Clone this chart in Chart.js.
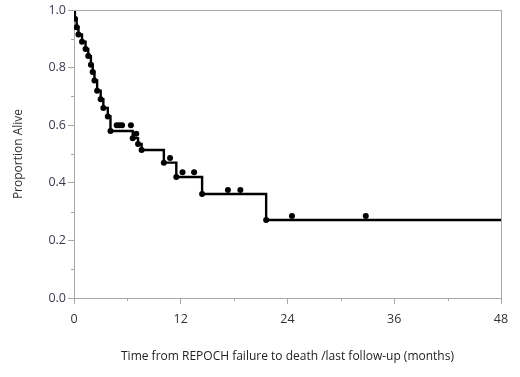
<!DOCTYPE html>
<html>
<head>
<meta charset="utf-8">
<script src="https://cdn.jsdelivr.net/npm/chart.js@4"></script>
<style>
  html, body { margin: 0; padding: 0; background: #fff; }
  #wrap { width: 520px; height: 377px; position: relative; }
</style>
</head>
<body>
<div id="wrap"><canvas id="c"></canvas></div>
<script>
// Kaplan-Meier step points (time in months, proportion alive after the step)
const stepTimes = [0, 0.1, 0.3, 0.5, 0.9, 1.3, 1.6, 1.9, 2.1, 2.3, 2.6, 3.0, 3.3, 3.8, 4.1, 6.6, 7.2, 7.6, 10.1, 11.5, 14.4, 21.6, 48];
const stepSurv  = [1.0, 0.97, 0.94, 0.915, 0.89, 0.865, 0.84, 0.81, 0.785, 0.755, 0.72, 0.69, 0.66, 0.63, 0.58, 0.555, 0.535, 0.514, 0.47, 0.42, 0.361, 0.271, 0.271];
// Event markers (dots at each drop)
const eventTimes = [0.1, 0.3, 0.5, 0.9, 1.3, 1.6, 1.9, 2.1, 2.3, 2.6, 3.0, 3.3, 3.8, 4.1, 6.6, 7.2, 7.6, 10.1, 11.5, 14.4, 21.6];
const eventSurv  = [0.97, 0.94, 0.915, 0.89, 0.865, 0.84, 0.81, 0.785, 0.755, 0.72, 0.69, 0.66, 0.63, 0.58, 0.555, 0.535, 0.514, 0.47, 0.42, 0.361, 0.271];
// Censored observations
const censorTimes = [4.8, 5.1, 5.4, 6.4, 7.0, 10.8, 12.2, 13.5, 17.3, 18.7, 24.5, 32.8];
const censorSurv  = [0.60, 0.60, 0.60, 0.60, 0.57, 0.486, 0.437, 0.437, 0.375, 0.375, 0.285, 0.285];
// Axis ticks
const xTicks = [0, 12, 24, 36, 48];
const xMinorTicks = [6, 18, 30, 42];
const yTicks = [0, 0.2, 0.4, 0.6, 0.8, 1.0];
const yMinorTicks = [0.1, 0.3, 0.5, 0.7, 0.9];

const axisColor = '#a8a8a8';
const fontFam = '"Open Sans", "DejaVu Sans", sans-serif';

const zip = (xs, ys) => xs.map((x, i) => ({x, y: ys[i]}));

const framePlugin = {
  id: 'frame',
  afterDraw(chart) {
    const {ctx, chartArea: a, scales: {x, y}} = chart;
    ctx.save();
    ctx.strokeStyle = axisColor;
    ctx.lineWidth = 1;
    ctx.beginPath();
    ctx.moveTo(a.left, a.top + 0.5); ctx.lineTo(a.right + 0.5, a.top + 0.5);
    ctx.moveTo(a.right + 0.5, a.top); ctx.lineTo(a.right + 0.5, a.bottom);
    xMinorTicks.forEach(v => {
      const px = Math.round(x.getPixelForValue(v)) + 0.5;
      ctx.moveTo(px, a.bottom); ctx.lineTo(px, a.bottom + 3);
    });
    yMinorTicks.forEach(v => {
      const py = Math.round(y.getPixelForValue(v)) + 0.5;
      ctx.moveTo(a.left - 3, py); ctx.lineTo(a.left, py);
    });
    ctx.stroke();
    ctx.restore();
  }
};

new Chart(document.getElementById('c'), {
  type: 'scatter',
  data: {
    datasets: [
      {
        type: 'line',
        data: zip(stepTimes, stepSurv),
        stepped: 'before',
        borderColor: '#000',
        borderWidth: 2.4,
        pointRadius: 0,
        fill: false,
        order: 2
      },
      {
        data: zip(eventTimes, eventSurv),
        backgroundColor: '#000',
        borderColor: '#000',
        borderWidth: 0,
        pointRadius: 3,
        order: 1
      },
      {
        data: zip(censorTimes, censorSurv),
        backgroundColor: '#000',
        borderColor: '#000',
        borderWidth: 0,
        pointRadius: 3,
        order: 1
      }
    ]
  },
  options: {
    responsive: true,
    maintainAspectRatio: false,
    animation: false,
    layout: { padding: { left: 0, right: 19, top: 10, bottom: 0 } },
    plugins: { legend: { display: false }, tooltip: { enabled: false } },
    scales: {
      x: {
        type: 'linear',
        min: 0, max: 48,
        afterBuildTicks: s => { s.ticks = xTicks.map(v => ({value: v})); },
        afterFit: s => { s.height = 79; },
        border: { display: true, color: axisColor, width: 1 },
        grid: { drawOnChartArea: false, color: axisColor, tickLength: 6 },
        ticks: { color: '#333', font: { family: fontFam, size: 12.5 }, padding: 8, maxRotation: 0 },
        title: {
          display: true,
          text: 'Time from REPOCH failure to death /last follow-up (months)',
          color: '#222',
          font: { family: fontFam, size: 12 },
          padding: { top: 0, bottom: 13 }
        }
      },
      y: {
        type: 'linear',
        min: 0, max: 1,
        afterBuildTicks: s => { s.ticks = yTicks.map(v => ({value: v})); },
        afterFit: s => { s.width = 74; },
        border: { display: true, color: axisColor, width: 1 },
        grid: { drawOnChartArea: false, color: axisColor, tickLength: 6 },
        ticks: {
          color: '#3a3a50',
          font: { family: fontFam, size: 12.5 },
          padding: 2,
          callback: v => Number(v).toFixed(1)
        },
        title: {
          display: true,
          text: 'Proportion Alive',
          color: '#333',
          font: { family: fontFam, size: 12 },
          padding: { top: 11, bottom: 0 }
        }
      }
    }
  },
  plugins: [framePlugin]
});
</script>
</body>
</html>
